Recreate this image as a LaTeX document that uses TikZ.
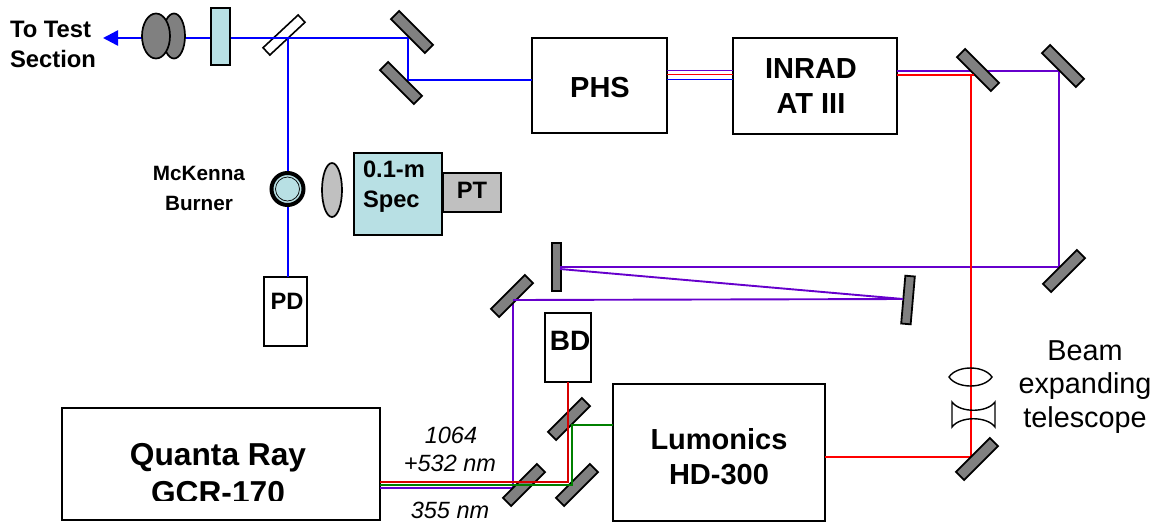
\documentclass[tikz,border=0pt]{standalone}
\usepackage{fontspec}
\setmainfont{Liberation Sans}
\usetikzlibrary{arrows.meta,calc,shapes.geometric}
\definecolor{beamblue}{RGB}{0,0,255}
\definecolor{beamred}{RGB}{255,0,0}
\definecolor{darkred}{RGB}{215,0,0}
\definecolor{beamgreen}{RGB}{0,128,0}
\definecolor{beampurple}{RGB}{102,0,204}
\definecolor{teal1}{RGB}{184,224,228}
\definecolor{mirrorgray}{RGB}{128,128,128}
\definecolor{lightg}{RGB}{192,192,192}
\tikzset{
  mirror/.style={draw=black,line width=1.8pt,fill=mirrorgray,minimum width=48pt,minimum height=11.5pt,inner sep=0pt,outer sep=0pt},
  splitter/.style={draw=black,line width=1.6pt,fill=white,minimum width=48pt,minimum height=10pt,inner sep=0pt,outer sep=0pt},
  box/.style={draw=black,line width=1.7pt,fill=white,inner sep=0pt,outer sep=0pt,anchor=north west},
  lbl/.style={inner sep=0pt,outer sep=0pt,anchor=base},
  lbll/.style={inner sep=0pt,outer sep=0pt,anchor=base west},
  bl/.style={draw=beamblue,line width=1.9pt},
  blt/.style={draw=beamblue,line width=2.5pt},
  rd/.style={draw=beamred,line width=1.9pt},
  dr/.style={draw=darkred,line width=1.9pt},
  gr/.style={draw=beamgreen,line width=1.9pt},
  pu/.style={draw=beampurple,line width=1.9pt},
  lensline/.style={draw=black,line width=1.4pt},
  oval/.style={ellipse,draw=black,line width=1.7pt,inner sep=0pt,outer sep=0pt}
}
\newcommand{\fs}[1]{\fontsize{#1}{#1}\selectfont}
\begin{document}
\begin{tikzpicture}[x=1pt,y=-1pt]
\useasboundingbox (0,0) rectangle (1159,523);
\clip (0,0) rectangle (1159,523);
% beam way points
\coordinate (arrowtip) at (103,38);
\coordinate (bsp) at (288,38);
\coordinate (ma) at (408,38);
\coordinate (mb) at (408,80);
\coordinate (pa) at (1059,71);
\coordinate (pb) at (1059,267);
\coordinate (pc) at (560,267);
\coordinate (pd) at (560,269);
\coordinate (pe) at (903,299);
\coordinate (pf) at (513,300);
\coordinate (pg) at (513,488);
\coordinate (rb) at (971,75);
\coordinate (rc) at (971,457);
\coordinate (qa) at (380,482);
\coordinate (qb) at (380,485);
\coordinate (qc) at (380,488);
\coordinate (gb) at (572,485);
\coordinate (gc) at (572,425);
\coordinate (db) at (568,482);
% boxes
\node[box,minimum width=135pt,minimum height=95pt] (phs) at (532,38) {};
\node[box,minimum width=164pt,minimum height=96pt] (inrad) at (733,38) {};
\node[box,minimum width=318pt,minimum height=112pt] (qray) at (62,408) {};
\node[box,minimum width=212pt,minimum height=137pt] (lum) at (613,384) {};
\node[box,minimum width=46pt,minimum height=69pt] (bd) at (545,313) {};
\node[box,minimum width=43pt,minimum height=69pt] (pdet) at (264,277) {};
\node[box,fill=teal1,minimum width=88pt,minimum height=82pt] (spec) at (354,153) {};
\node[box,fill=lightg,minimum width=58pt,minimum height=39pt] (pt) at (443,173) {};
% splitter below the beams
\node[splitter,rotate=43] (bs) at (284,35) {};
% beams
\draw[blt] (bsp) -- (ma);
\draw[bl] (ma) -- (mb) -- (mb -| phs.west);
\draw[blt,-{Triangle[length=15pt,width=15pt]}] (bsp) -- (arrowtip);
\draw[bl] (bsp) -- (bsp |- pdet.north);
\path (phs.east) ++(0,-15) coordinate (l1) (phs.east) ++(0,-11) coordinate (l2) (phs.east) ++(0,-6) coordinate (l3);
\draw[pu] (l1) -- (l1 -| inrad.west);
\draw[rd] (l2) -- (l2 -| inrad.west);
\draw[bl] (l3) -- (l3 -| inrad.west);
\draw[pu] (pa -| inrad.east) -- (pa) -- (pb) -- (pc);
\draw[pu] (pf) -- (pg) -- (qc);
\draw[rd] (rb -| inrad.east) -- (rb) -- (rc) -- (rc -| lum.east);
% mirrors
\node[mirror,rotate=-45] (m1) at (412,32) {};
\node[mirror,rotate=-45] (m2) at (401,83) {};
\node[mirror,rotate=-45] (m3) at (978,70) {};
\node[mirror,rotate=-45] (m4) at (1063,66) {};
\node[mirror,rotate=45] (m5) at (1064,271) {};
\node[mirror,rotate=90,minimum height=9.5pt] (m6) at (556.5,267) {};
\node[mirror,rotate=85,minimum height=9.5pt] (m7) at (908,300) {};
\node[mirror,rotate=45] (m8) at (512,296) {};
\node[mirror,rotate=45] (m9) at (524,485) {};
\node[mirror,rotate=45] (m10) at (569,419) {};
\node[mirror,rotate=45] (m11) at (577,485) {};
\node[mirror,rotate=45] (m12) at (977,459) {};
% beams drawn over the mirrors
\draw[pu] (pc) -- (pe |- pc);
\draw[pu] (pd) -- (pe) -- (pf);
\draw[rd] (rb) -- ($(rb)+(3,0)$);
\draw[gr] (qb) -- (gb) -- (gc) -- (gc -| lum.west);
\draw[dr] (qa) -- (db) -- (db |- bd.south);
% optics, upper left
\node[oval,fill=mirrorgray,minimum width=22pt,minimum height=45pt] (lens2) at (174,36) {};
\node[oval,fill=mirrorgray,minimum width=28pt,minimum height=45pt] (lens1) at (156,36) {};
\node[draw=black,line width=1.7pt,fill=teal1,minimum width=19pt,minimum height=57pt,inner sep=0pt] (plate) at (220.5,36.5) {};
% burner and collecting lens
\node[circle,draw=black,line width=4pt,fill=teal1,minimum size=32pt,inner sep=0pt] (burner) at (287.5,189) {};
\node[circle,draw=black,line width=0.7pt,minimum size=24pt,inner sep=0pt] (burnerin) at (287.5,189) {};
\node[oval,fill=lightg,minimum width=20pt,minimum height=54pt] (clens) at (332,190) {};
% telescope
\draw[lensline] (949,377) .. controls (957,365) and (984,365) .. (992,377) .. controls (984,389) and (957,389) .. (949,377) -- cycle;
\draw[lensline] (952,402) .. controls (960,413) and (987,413) .. (995,402) -- (995,427) .. controls (987,416) and (960,416) .. (952,427) -- cycle;
% labels
\node[lbll,font=\fs{23.8}\bfseries] (t1) at (10,37) {To Test};
\node[lbll,font=\fs{23.8}\bfseries] (t2) at (10,67) {Section};
\node[lbl,font=\fs{29}\bfseries] (t3) at (600,97) {PHS};
\node[lbl,font=\fs{29}\bfseries] (t4) at (811,78) {INRAD};
\node[lbl,font=\fs{29}\bfseries] (t5) at (811,113) {AT III};
\node[lbl,font=\fs{20.7}\bfseries] (t6) at (199,180) {McKenna};
\node[lbl,font=\fs{20.7}\bfseries] (t7) at (199,210) {Burner};
\node[lbll,font=\fs{23.7}\bfseries] (t8) at (363,177) {0.1-m};
\node[lbll,font=\fs{23.7}\bfseries] (t9) at (363,207) {Spec};
\node[lbl,font=\fs{23.7}\bfseries] (t10) at (472,198) {PT};
\node[lbl,font=\fs{23.7}\bfseries] (t11) at (287,309) {PD};
\node[lbl,font=\fs{28}\bfseries] (t12) at (570,350) {BD};
\node[lbl,font=\fs{29}\bfseries] (t13) at (719,449) {Lumonics};
\node[lbl,font=\fs{29}\bfseries] (t14) at (719,484) {HD-300};
\node[lbl,font=\fs{31.7}\bfseries] (t15) at (218,465) {Quanta Ray};
\begin{scope}
\clip (100,470) rectangle (340,500);
\node[lbl,font=\fs{31.7}\bfseries] (t16) at (218,503) {GCR-170};
\end{scope}
\node[lbl,font=\fs{23.5}\itshape] (t17) at (451,443) {1064};
\node[lbl,font=\fs{23.5}\itshape] (t18) at (450,471) {+532 nm};
\node[lbl,font=\fs{23.5}\itshape] (t19) at (450,518) {355 nm};
\node[lbl,font=\fs{28.8}] (t20) at (1085,360) {Beam};
\node[lbl,font=\fs{28.8}] (t21) at (1085,393) {expanding};
\node[lbl,font=\fs{28.8}] (t22) at (1085,427) {telescope};
\end{tikzpicture}
\end{document}
